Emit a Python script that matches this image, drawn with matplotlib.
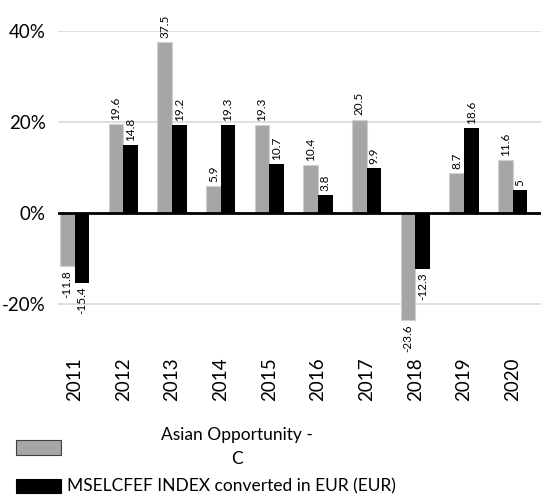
import numpy as np
import matplotlib.pyplot as plt
from matplotlib.patches import Rectangle

# data
years = ['2011', '2012', '2013', '2014', '2015', '2016', '2017', '2018', '2019', '2020']
fund = [-11.8, 19.6, 37.5, 5.9, 19.3, 10.4, 20.5, -23.6, 8.7, 11.6]
index = [-15.4, 14.8, 19.2, 19.3, 10.7, 3.8, 9.9, -12.3, 18.6, 5]
fund_name = 'Asian Opportunity -\nC'
index_name = 'MSELCFEF INDEX converted in EUR (EUR)'

plt.rcParams['font.family'] = ['Lato', 'DejaVu Sans']

fig = plt.figure(figsize=(5.41, 4.97), dpi=100)
ax = fig.add_axes([58 / 541, 1 - 349 / 497, (541 - 58) / 541, (349 - 31) / 497])

x = np.arange(len(years))
w = 0.30
b1 = ax.bar(x - w / 2, fund, w, color='#A6A6A6', edgecolor='#D0D0D0', linewidth=0.8, zorder=3)
b2 = ax.bar(x + w / 2, index, w, color='#000000', zorder=3)

for bars, vals in ((b1, fund), (b2, index)):
    for r, v in zip(bars, vals):
        cx = r.get_x() + r.get_width() / 2
        lab = ('%g' % v)
        if v >= 0:
            ax.annotate(lab, (cx, v), xytext=(0, 3), textcoords='offset points',
                        rotation=90, ha='center', va='bottom', fontsize=8.5,
                        annotation_clip=False)
        else:
            ax.annotate(lab, (cx, v), xytext=(0, -3), textcoords='offset points',
                        rotation=90, ha='center', va='top', fontsize=8.5,
                        annotation_clip=False)

ax.set_ylim(-30, 40)
ax.set_xlim(-0.34, len(years) - 0.42)
ax.set_yticks([-20, 0, 20, 40])
ax.set_yticklabels(['-20%', '0%', '20%', '40%'], fontsize=13.5)
ax.set_xticks(x)
ax.set_xticklabels(years, rotation=90, fontsize=13.5)
ax.tick_params(axis='y', length=0, pad=9)
ax.tick_params(axis='x', length=0, pad=6)
for s in ax.spines.values():
    s.set_visible(False)
ax.grid(axis='y', color='#D9D9D9', linewidth=1.2, zorder=0)
ax.axhline(0, color='black', linewidth=2, zorder=4)

# legend
fig.add_artist(Rectangle((16 / 541, 1 - 455 / 497), 45 / 541, 15 / 497,
                         facecolor='#A6A6A6', edgecolor='#404040', linewidth=0.8,
                         transform=fig.transFigure))
fig.text(237 / 541, 1 - 447 / 497, fund_name, ha='center', va='center',
         multialignment='center', fontsize=12.5, linespacing=1.6)
fig.add_artist(Rectangle((16 / 541, 1 - 493 / 497), 45 / 541, 14 / 497,
                         facecolor='#000000', edgecolor='#000000', linewidth=0.8,
                         transform=fig.transFigure))
fig.text(67 / 541, 1 - 486 / 497, index_name, ha='left', va='center', fontsize=12.5)

fig.savefig('out.png', dpi=100)
